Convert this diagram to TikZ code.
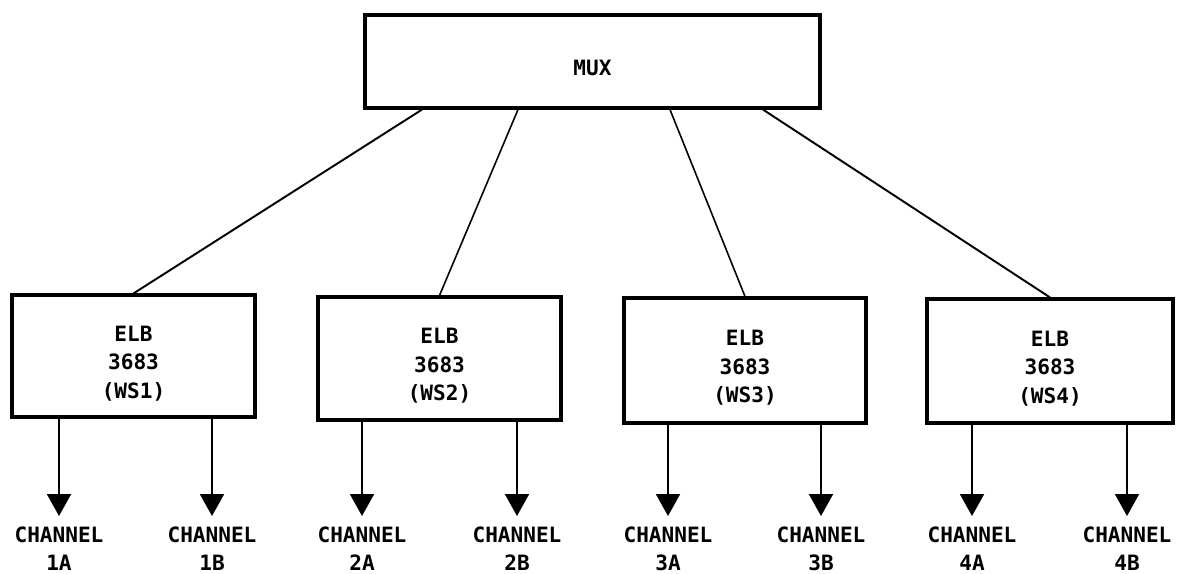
\documentclass[tikz,border=0pt]{standalone}
\usepackage{fontspec}
\setmainfont{DejaVu Sans Mono}
\usetikzlibrary{arrows.meta}
\begin{document}
\begin{tikzpicture}[x=0.02cm,y=-0.02cm,
  blk/.style={draw=black, line width=1.8pt, inner sep=0pt, fill=white},
  blktext/.style={font=\fontsize{12pt}{16.2pt}\selectfont\bfseries, align=center, inner sep=0pt},
  chan/.style={font=\fontsize{12pt}{16.5pt}\selectfont\bfseries, align=center, inner xsep=0pt, inner ysep=0.2cm, anchor=north},
  link/.style={line width=1.1pt},
  outarrow/.style={line width=1.1pt, -{Triangle[width=0.48cm,length=0.44cm]}}
]
\useasboundingbox (0,0) rectangle (1183,574);
% MUX
\node[blk, minimum width=9.1cm, minimum height=1.86cm] (mux) at (592.5,61.5) {};
\node[blktext] (muxt) at ([yshift=-0.13cm]mux.center) {MUX};
% ELB boxes
\node[blk, minimum width=4.86cm, minimum height=2.44cm] (b1) at (133.5,356) {};
\node[blk, minimum width=4.86cm, minimum height=2.46cm] (b2) at (439.5,358.5) {};
\node[blk, minimum width=4.84cm, minimum height=2.5cm] (b3) at (745,360.5) {};
\node[blk, minimum width=4.92cm, minimum height=2.48cm] (b4) at (1050,361) {};
\node[blktext] (t1) at ([yshift=-0.15cm]b1.center) {ELB\\3683\\(WS1)};
\node[blktext] (t2) at ([yshift=-0.15cm]b2.center) {ELB\\3683\\(WS2)};
\node[blktext] (t3) at ([yshift=-0.15cm]b3.center) {ELB\\3683\\(WS3)};
\node[blktext] (t4) at ([yshift=-0.15cm]b4.center) {ELB\\3683\\(WS4)};
% links from MUX
\draw[link] ([xshift=-3.41cm]mux.south) -- (b1.north);
\draw[link, line width=0.9pt] ([xshift=-1.49cm]mux.south) -- (b2.north);
\draw[link, line width=0.9pt] ([xshift=1.55cm]mux.south) -- (b3.north);
\draw[link] ([xshift=3.41cm]mux.south) -- (b4.north);
% channel labels
\node[chan] (c1a) at (59,516) {CHANNEL\\1A};
\node[chan] (c1b) at (212,516) {CHANNEL\\1B};
\node[chan] (c2a) at (362,516) {CHANNEL\\2A};
\node[chan] (c2b) at (517,516) {CHANNEL\\2B};
\node[chan] (c3a) at (668,516) {CHANNEL\\3A};
\node[chan] (c3b) at (821,516) {CHANNEL\\3B};
\node[chan] (c4a) at (972,516) {CHANNEL\\4A};
\node[chan] (c4b) at (1127,516) {CHANNEL\\4B};
% outputs
\foreach \b/\n in {b1/c1a,b1/c1b,b2/c2a,b2/c2b,b3/c3a,b3/c3b,b4/c4a,b4/c4b}
  \draw[outarrow] (\b.south -| \n.north) -- (\n.north);
\end{tikzpicture}
\end{document}
